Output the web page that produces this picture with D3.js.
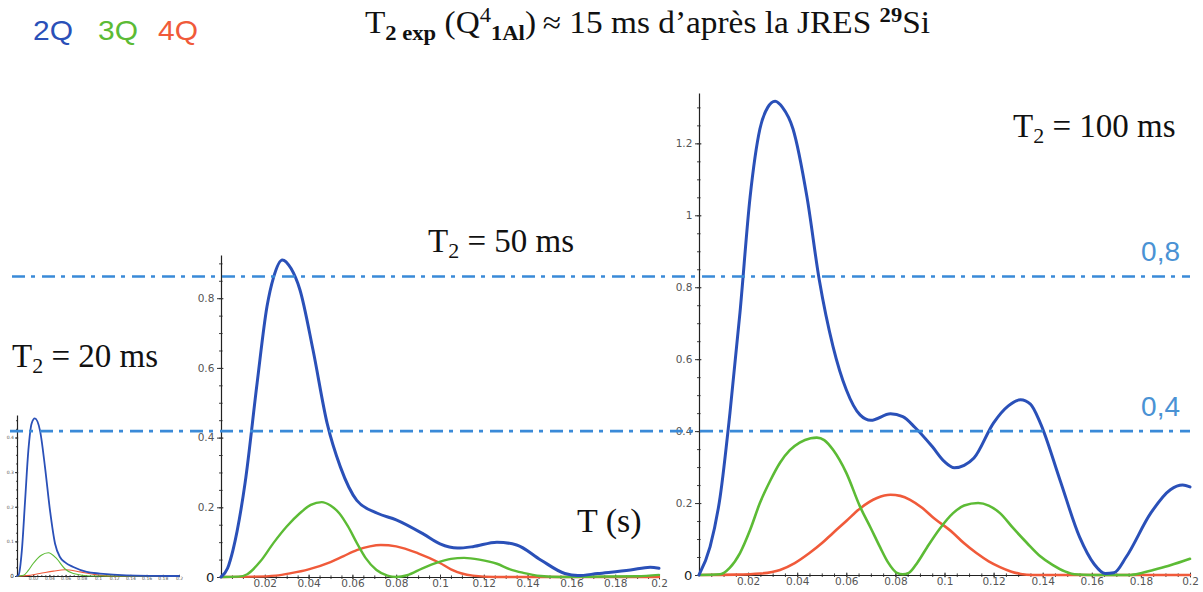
<!DOCTYPE html>
<html><head><meta charset="utf-8">
<script src="https://cdn.jsdelivr.net/npm/d3@7"></script>
<style>
html,body{margin:0;padding:0;background:#fff;}
svg{display:block;}
</style></head>
<body>
<svg id="chart" width="1203" height="592"></svg>
<script>
// ---------- DATA (t in s, amplitude) ----------
const seriesNames = ["2Q", "3Q", "4Q"];
const seriesColors = ["#2a50b8", "#5cbb35", "#f05a3a"];

// T2 = 20 ms
const t20_2Q = [[0,0],[0.002,0.003],[0.006,0.074],[0.010,0.218],[0.014,0.362],[0.018,0.44],[0.022,0.455],[0.0284,0.42],[0.0346,0.314],[0.0407,0.19],[0.047,0.093],[0.053,0.055],[0.059,0.04],[0.0695,0.026],[0.086,0.012],[0.1025,0.007],[0.135,0.002],[0.2,0]];
const t20_3Q = [[0,0],[0.008,0.002],[0.014,0.016],[0.02,0.036],[0.03,0.06],[0.0387,0.067],[0.049,0.05],[0.059,0.021],[0.0695,0.007],[0.09,0],[0.2,0]];
const t20_4Q = [[0,0],[0.012,0.001],[0.028,0.007],[0.045,0.014],[0.059,0.018],[0.078,0.012],[0.094,0.005],[0.115,0],[0.2,0]];

// T2 = 50 ms
const t50_2Q = [[0,0],[0.003,0.025],[0.0055,0.078],[0.011,0.27],[0.0165,0.557],[0.021,0.776],[0.024,0.86],[0.028,0.91],[0.032,0.885],[0.036,0.825],[0.042,0.652],[0.0485,0.44],[0.0545,0.316],[0.062,0.22],[0.0714,0.183],[0.080,0.164],[0.0925,0.123],[0.1,0.095],[0.108,0.083],[0.115,0.087],[0.126,0.1],[0.135,0.092],[0.146,0.049],[0.157,0.01],[0.163,0.004],[0.172,0.01],[0.187,0.02],[0.196,0.028],[0.2,0.025]];
const t50_3Q = [[0,0],[0.008,0.001],[0.012,0.008],[0.018,0.045],[0.024,0.098],[0.030,0.145],[0.036,0.183],[0.041,0.207],[0.046,0.215],[0.050,0.205],[0.054,0.183],[0.058,0.145],[0.062,0.098],[0.066,0.055],[0.071,0.02],[0.076,0.004],[0.08,0],[0.085,0.005],[0.092,0.025],[0.099,0.042],[0.105,0.052],[0.111,0.055],[0.118,0.05],[0.126,0.038],[0.132,0.022],[0.138,0.012],[0.146,0.003],[0.155,0],[0.19,0.002],[0.2,0.006]];
const t50_4Q = [[0,0],[0.015,0.001],[0.025,0.004],[0.032,0.011],[0.04,0.022],[0.05,0.043],[0.056,0.06],[0.062,0.077],[0.068,0.088],[0.073,0.092],[0.08,0.088],[0.09,0.068],[0.1,0.04],[0.105,0.022],[0.11,0.01],[0.115,0.004],[0.125,0],[0.2,0]];

// T2 = 100 ms
const t100_2Q = [[0,0],[0.0045,0.078],[0.0086,0.217],[0.0126,0.45],[0.0167,0.73],[0.0208,1.05],[0.0248,1.24],[0.028,1.30],[0.031,1.317],[0.034,1.30],[0.0383,1.24],[0.044,1.05],[0.049,0.82],[0.0546,0.635],[0.060,0.515],[0.0656,0.445],[0.070,0.43],[0.078,0.448],[0.083,0.44],[0.088,0.41],[0.095,0.357],[0.100,0.315],[0.104,0.298],[0.108,0.305],[0.112,0.325],[0.12,0.423],[0.126,0.47],[0.131,0.487],[0.135,0.475],[0.139,0.423],[0.147,0.265],[0.155,0.106],[0.161,0.03],[0.1655,0.004],[0.169,0.006],[0.174,0.05],[0.184,0.172],[0.192,0.237],[0.197,0.25],[0.2,0.245]];
const t100_3Q = [[0,0],[0.0086,0.002],[0.0125,0.02],[0.0167,0.061],[0.0208,0.125],[0.0248,0.2],[0.029,0.262],[0.033,0.312],[0.037,0.347],[0.041,0.368],[0.0455,0.38],[0.048,0.382],[0.051,0.375],[0.0546,0.348],[0.06,0.284],[0.0656,0.19],[0.07,0.13],[0.0737,0.078],[0.077,0.035],[0.0806,0.006],[0.083,0.002],[0.0855,0.006],[0.089,0.035],[0.093,0.078],[0.098,0.128],[0.1035,0.172],[0.108,0.193],[0.1137,0.2],[0.118,0.193],[0.1226,0.172],[0.128,0.13],[0.1336,0.089],[0.139,0.052],[0.144,0.028],[0.149,0.01],[0.153,0.002],[0.16,0],[0.175,0],[0.18,0.005],[0.185,0.014],[0.192,0.027],[0.2,0.045]];
const t100_4Q = [[0,0],[0.015,0.001],[0.025,0.004],[0.033,0.014],[0.039,0.033],[0.045,0.061],[0.05,0.088],[0.0546,0.117],[0.06,0.15],[0.0656,0.185],[0.0725,0.214],[0.078,0.223],[0.082,0.22],[0.086,0.209],[0.091,0.186],[0.095,0.162],[0.1035,0.117],[0.108,0.088],[0.113,0.061],[0.118,0.038],[0.1226,0.022],[0.127,0.01],[0.131,0.003],[0.136,0],[0.2,0]];

// ticks
const xTicks = [0.02,0.04,0.06,0.08,0.1,0.12,0.14,0.16,0.18,0.2];
const yTicks20 = [0,0.1,0.2,0.3,0.4];
const yTicks50 = [0,0.2,0.4,0.6,0.8];
const yTicks100 = [0,0.2,0.4,0.6,0.8,1,1.2];
const refLevels = [0.83, 0.4];
const refLabels = ["0,8", "0,4"];
const panelLabels = ["20", "50", "100"];

// ---------- DRAW ----------
const svg = d3.select("#chart");
svg.append("rect").attr("width",1203).attr("height",592).attr("fill","#fff");

const panels = [
  {key:"20", data:[t20_2Q,t20_3Q,t20_4Q], yMax:0.465, yTicks:yTicks20,
   xr:[17,179], yr:[576,415], fs:4.5, wMain:1.8, wSub:1.1, tick:2},
  {key:"50", data:[t50_2Q,t50_3Q,t50_4Q], yMax:0.924, yTicks:yTicks50,
   xr:[221,659], yr:[577,255], fs:10.5, wMain:3, wSub:2.4, tick:4},
  {key:"100", data:[t100_2Q,t100_3Q,t100_4Q], yMax:1.34, yTicks:yTicks100,
   xr:[699,1190], yr:[575,93], fs:10.5, wMain:3, wSub:2.6, tick:4}
];

const fmt = d3.format("~g");
const tickFont = "'DejaVu Sans', sans-serif";
panels.forEach(p => {
  const x = d3.scaleLinear().domain([0,0.2]).range(p.xr);
  const y = d3.scaleLinear().domain([0,p.yMax]).range(p.yr);
  p.x = x; p.y = y;
  const g = svg.append("g");
  // minor ticks
  const xMinor = d3.range(0.005, 0.2001, 0.005);
  const yStep = p.key === "20" ? 0.025 : 0.05;
  const yMinor = d3.range(yStep, p.yMax, yStep);
  g.append("g").attr("transform",`translate(0,${p.yr[0]})`)
    .call(d3.axisBottom(x).tickValues(xMinor).tickSize(p.tick*0.5).tickFormat(""))
    .call(s=>s.select(".domain").remove())
    .selectAll("line").attr("stroke","#444").attr("y1",-p.tick*0.4);
  g.append("g").attr("transform",`translate(${p.xr[0]},0)`)
    .call(d3.axisLeft(y).tickValues(yMinor).tickSize(p.tick*0.5).tickFormat(""))
    .call(s=>s.select(".domain").remove())
    .selectAll("line").attr("stroke","#444").attr("x1",p.tick*0.4);
  // major x axis
  const gx = g.append("g").attr("transform",`translate(0,${p.yr[0]})`)
    .call(d3.axisBottom(x).tickValues(xTicks).tickSize(p.tick*0.6).tickPadding(0).tickFormat(fmt).tickSizeOuter(0));
  gx.select(".domain").attr("stroke","#222").attr("stroke-width",1.2);
  gx.selectAll("line").attr("stroke","#333").attr("y1",-p.tick*0.6);
  gx.selectAll("text").attr("font-family",tickFont).attr("font-size",p.fs).attr("fill","#555")
    .attr("y", p.tick*0.5).attr("dy","0.72em");
  // major y axis
  const gy = g.append("g").attr("transform",`translate(${p.xr[0]},0)`)
    .call(d3.axisLeft(y).tickValues(p.yTicks).tickSize(p.tick).tickPadding(p.fs*0.25).tickFormat(fmt).tickSizeOuter(0));
  gy.select(".domain").attr("stroke","#222").attr("stroke-width",1.2);
  gy.selectAll("line").attr("stroke","#333").attr("x1",p.tick*0.6);
  gy.selectAll("text").attr("font-family",tickFont).attr("font-size",p.fs).attr("fill","#555");
  gy.selectAll(".tick").filter(d=>d===0).select("text").attr("fill","#222").attr("font-size",p.fs*1.25).attr("dy","0.32em");

  const line = d3.line().x(d=>x(d[0])).y(d=>y(d[1])).curve(d3.curveMonotoneX);
  // draw 4Q, 3Q, then 2Q on top
  [2,1,0].forEach(i => {
    g.append("path").datum(p.data[i]).attr("d",line)
      .attr("fill","none").attr("stroke",seriesColors[i])
      .attr("stroke-width", i===0 ? p.wMain : p.wSub)
      .attr("stroke-linejoin","round").attr("stroke-linecap","round");
  });
});

// reference dash-dot lines (in the 100 ms panel's scale)
const yRef = panels[2].y;
refLevels.forEach((v,i) => {
  svg.append("line").attr("x1", i===0 ? 12 : 10).attr("x2",1190)
    .attr("y1",yRef(v)).attr("y2",yRef(v))
    .attr("stroke","#3a8ad8").attr("stroke-width",2.6)
    .attr("stroke-dasharray","13,6,4,7");
  svg.append("text").attr("x",1180).attr("y",yRef(v)-15)
    .attr("text-anchor","end").attr("font-family","'Liberation Sans', sans-serif")
    .attr("font-size",28).attr("fill","#4a92d4").text(refLabels[i]);
});

// panel labels T2 = .. ms
const serif = "'Liberation Serif', 'Times New Roman', serif";
const labelPos = [[12,367],[428,252],[1013,137]];
panelLabels.forEach((lab,i) => {
  const t = svg.append("text").attr("x",labelPos[i][0]).attr("y",labelPos[i][1])
    .attr("font-family",serif).attr("font-size",33).attr("fill","#111");
  t.append("tspan").text("T");
  t.append("tspan").attr("font-size",22).attr("dy",6).text("2");
  t.append("tspan").attr("dy",-6).text(" = " + lab + " ms");
});

// T (s)
svg.append("text").attr("x",577).attr("y",532).attr("font-family",serif)
  .attr("font-size",34).attr("fill","#111").text("T (s)");

// legend
seriesNames.forEach((n,i) => {
  svg.append("text").attr("x",[33,98,158][i]).attr("y",40)
    .attr("font-family","'Liberation Sans', sans-serif").attr("font-size",28)
    .attr("textLength",40).attr("lengthAdjust","spacingAndGlyphs")
    .attr("fill",seriesColors[i]).text(n);
});

// title
const title = svg.append("text").attr("x",365).attr("y",33)
  .attr("font-family",serif).attr("font-size",31).attr("fill","#111")
  .attr("textLength",565).attr("lengthAdjust","spacingAndGlyphs");
title.append("tspan").text("T");
title.append("tspan").attr("font-size",21).attr("font-weight","bold").attr("dy",7).text("2 exp");
title.append("tspan").attr("dy",-7).text(" (Q");
title.append("tspan").attr("font-size",21).attr("dy",-11).text("4");
title.append("tspan").attr("font-size",21).attr("font-weight","bold").attr("dy",18).text("1Al");
title.append("tspan").attr("dy",-7).text(")\u2009\u2248 15 ms d\u2019après la JRES ");
title.append("tspan").attr("font-size",21).attr("font-weight","bold").attr("dy",-11).text("29");
title.append("tspan").attr("dy",11).text("Si");
</script>
</body></html>
